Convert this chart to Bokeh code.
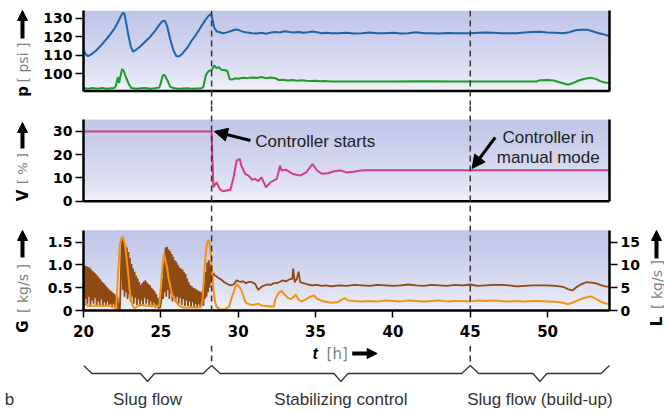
import numpy as np
from bokeh.plotting import figure
from bokeh.layouts import column, row
from bokeh.models import Range1d, LinearAxis, FixedTicker, Span, Label, Arrow, NormalHead
from bokeh.embed import file_html
from bokeh.resources import INLINE

# ---------------- events and phases (time in h) ----------------
t_controller_on = 28.28
t_manual = 45.0
phase_edges = [20.0, 28.28, 45.0, 54.0]
phase_names = ["Slug flow", "Stabilizing control", "Slug flow (build-up)"]
x_ticks = [20, 25, 30, 35, 40, 45, 50]

# ---------------- pressures (psi) ----------------
t_p_top = [20.0, 20.15, 20.3, 20.5, 20.8, 21.1, 21.4, 21.7, 22.0, 22.2, 22.4, 22.55, 22.65, 22.75,
           22.9, 23.05, 23.2, 23.4, 23.7, 24.0, 24.3, 24.6, 24.9, 25.1, 25.25, 25.4, 25.6, 25.8,
           26.0, 26.2, 26.4, 26.7, 27.0, 27.3, 27.6, 27.9, 28.1, 28.25, 28.35, 28.45, 28.6, 28.8,
           29.0, 29.2, 29.5, 29.8, 30.0, 30.3, 30.6, 30.9, 31.2, 31.5, 31.8, 32.1, 32.4, 32.7,
           33.0, 33.3, 33.6, 33.9, 34.2, 34.5, 34.8, 35.1, 35.4, 35.7, 36.0, 36.5, 37.0, 37.5,
           38.0, 38.5, 39.0, 39.5, 40.0, 40.5, 41.0, 41.5, 42.0, 42.5, 43.0, 43.5, 44.0, 44.5,
           45.0, 45.5, 46.0, 46.5, 47.0, 47.5, 48.0, 48.5, 49.0, 49.5, 50.0, 50.5, 51.0, 51.4,
           51.8, 52.2, 52.6, 52.9, 53.2, 53.5, 54.0]
p_top = [113.0, 110.5, 109.5, 110.5, 112.5, 115.0, 118.0, 121.0, 124.5, 127.5, 131.0, 133.0, 132.5, 128.0,
         121.0, 115.0, 112.0, 113.0, 115.0, 117.5, 120.0, 123.0, 126.5, 128.5, 128.8, 126.0, 119.0, 113.0,
         109.5, 109.5, 111.0, 114.0, 118.0, 121.5, 125.5, 129.5, 131.5, 132.5, 129.0, 125.0, 123.0, 122.5,
         122.0, 122.3, 123.0, 124.0, 123.8, 122.8, 122.3, 122.0, 121.8, 122.2, 121.7, 122.3, 122.6, 122.4,
         123.0, 122.6, 122.3, 122.6, 122.2, 122.5, 122.9, 122.5, 122.0, 122.2, 122.0, 122.0, 122.2, 121.8,
         122.0, 122.3, 121.9, 122.0, 122.2, 121.8, 122.0, 122.5, 121.9, 122.0, 121.8, 122.1, 122.0, 121.9,
         122.0, 122.2, 122.4, 122.2, 122.0, 121.9, 122.0, 122.3, 122.6, 122.8, 122.4, 122.2, 122.0, 122.5,
         123.6, 123.9, 123.8, 123.0, 122.2, 121.6, 120.5]

t_p_bot = [20.0, 20.3, 20.6, 20.9, 21.2, 21.5, 21.8, 22.0, 22.1, 22.2, 22.25, 22.3, 22.4, 22.5,
           22.6, 22.7, 22.8, 22.95, 23.1, 23.4, 23.7, 24.0, 24.3, 24.6, 24.9, 25.0, 25.1, 25.2,
           25.3, 25.45, 25.6, 25.8, 26.1, 26.4, 26.7, 27.0, 27.3, 27.6, 27.75, 27.9, 28.0, 28.1,
           28.3, 28.45, 28.6, 28.75, 28.9, 29.1, 29.3, 29.45, 29.6, 29.8, 30.0, 30.3, 30.6, 30.9,
           31.2, 31.5, 31.8, 32.1, 32.4, 32.6, 32.9, 33.2, 33.5, 33.8, 34.1, 34.4, 34.7, 35.0,
           35.3, 35.6, 36.0, 38.0, 40.0, 42.0, 44.0, 46.0, 48.0, 49.3, 49.5, 50.0, 50.4, 50.7,
           51.0, 51.3, 51.6, 52.0, 52.4, 52.8, 53.1, 53.4, 53.7, 54.0]
p_bot = [92.2, 91.8, 92.3, 91.9, 92.2, 91.8, 92.1, 92.3, 93.5, 97.5, 98.0, 95.0, 99.0, 102.5,
         101.5, 99.0, 97.0, 94.0, 92.2, 91.9, 92.1, 92.2, 91.9, 92.1, 92.5, 95.0, 98.5, 99.5,
         98.5, 96.0, 93.0, 92.2, 91.8, 92.0, 92.1, 91.8, 92.0, 92.1, 92.8, 99.0, 100.5, 101.5,
         102.0, 104.5, 103.0, 103.5, 102.2, 102.0, 101.5, 97.0, 96.8, 97.5, 97.3, 97.8, 97.6, 98.0,
         97.7, 98.2, 97.6, 97.9, 97.6, 96.6, 96.7, 96.3, 96.6, 96.2, 96.5, 96.2, 96.1, 96.2,
         95.9, 96.0, 95.8, 95.8, 95.8, 95.9, 95.8, 95.8, 95.8, 95.8, 96.5, 96.6, 96.3, 95.5,
         94.8, 94.0, 94.8, 96.3, 97.3, 97.8, 97.2, 96.0, 95.2, 94.9]

# ---------------- valve opening V (%) ----------------
t_valve = [20.0, 28.28, 28.32, 28.4, 28.6, 28.8, 29.0, 29.5, 29.7, 29.9, 30.1, 30.2, 30.45, 30.67,
           30.9, 31.1, 31.3, 31.5, 31.8, 32.1, 32.3, 32.5, 32.7, 32.8, 33.1, 33.5, 34.0, 34.4,
           34.8, 35.1, 35.4, 35.8, 36.2, 36.6, 37.0, 37.45, 37.9, 38.3, 54.0]
valve = [30.0, 30.0, 20.0, 6.0, 8.2, 5.3, 4.3, 4.9, 10.3, 17.5, 18.2, 15.3, 11.8, 11.0,
         9.2, 9.6, 8.6, 10.3, 6.0, 8.2, 8.9, 9.6, 15.3, 13.2, 13.5, 11.8, 11.0, 12.4,
         16.0, 13.2, 11.8, 12.0, 12.9, 13.2, 12.4, 12.7, 13.2, 13.3, 13.3]

# ---------------- gas flow G (kg/s) ----------------
# slugging period, one sample every 0.05 h starting at 20.0 h (ten samples per row)
gas_slug = [1.00, 0.12, 0.98, 0.25, 0.97, 0.15, 0.95, 0.30, 0.94, 0.10,
            0.90, 0.22, 0.86, 0.15, 0.83, 0.28, 0.80, 0.10, 0.76, 0.20,
            0.72, 0.12, 0.68, 0.25, 0.63, 0.08, 0.60, 0.18, 0.56, 0.10,
            0.52, 0.20, 0.48, 0.08, 0.45, 0.15, 0.42, 0.06, 0.39, 0.15,
            0.36, 0.05, 0.33, 0.10, 0.30, 0.03, 0.15, 0.02, 0.55, 1.20,
            1.62, 0.45, 1.55, 0.30, 1.45, 0.40, 1.38, 0.25, 1.28, 0.35,
            1.15, 0.20, 1.02, 0.30, 0.92, 0.15, 0.85, 0.28, 0.76, 0.12,
            0.70, 0.25, 0.62, 0.10, 0.56, 0.22, 0.60, 0.12, 0.64, 0.28,
            0.66, 0.15, 0.62, 0.25, 0.58, 0.10, 0.55, 0.20, 0.50, 0.08,
            0.46, 0.18, 0.42, 0.06, 0.36, 0.12, 0.28, 0.04, 0.22, 0.05,
            0.15, 0.30, 0.70, 0.25, 1.05, 0.40, 1.38, 0.30, 1.40, 0.45,
            1.34, 0.25, 1.30, 0.38, 1.24, 0.20, 1.18, 0.32, 1.10, 0.18,
            1.07, 0.30, 1.00, 0.15, 0.95, 0.28, 0.92, 0.12, 0.90, 0.25,
            0.84, 0.10, 0.80, 0.22, 0.70, 0.10, 0.62, 0.20, 0.56, 0.08,
            0.53, 0.18, 0.50, 0.06, 0.48, 0.15, 0.46, 0.05, 0.44, 0.14,
            0.42, 0.05, 0.40, 0.15, 0.45, 0.10, 0.60, 0.25, 0.85, 0.30,
            1.05, 0.40, 1.10, 0.50, 1.00, 0.60, 0.90, 0.75, 0.82, 0.78]
t_gas_slug = np.round(20.0 + 0.05 * np.arange(len(gas_slug)), 2).tolist()
t_gas_ctrl = [28.5, 28.7, 28.9, 29.1, 29.3, 29.5, 29.7, 29.9, 30.1, 30.3, 30.5, 30.7, 30.9, 31.1,
              31.3, 31.5, 31.7, 31.9, 32.1, 32.3, 32.5, 32.7, 32.9, 33.1, 33.3, 33.5, 33.55, 33.65,
              33.8, 33.9, 34.0, 34.2, 34.5, 34.8, 35.1, 35.4, 35.7, 36.0, 36.5, 37.0, 37.5, 38.0,
              38.5, 39.0, 39.5, 40.0, 40.5, 41.0, 41.5, 42.0, 42.5, 43.0, 43.5, 44.0, 44.5, 45.0,
              45.5, 46.0, 46.5, 47.0, 47.5, 48.0, 48.5, 49.0, 49.5, 50.0, 50.5, 51.0, 51.3, 51.6,
              51.9, 52.2, 52.5, 52.8, 53.1, 53.4, 53.7, 54.0]
gas_ctrl = [0.77, 0.72, 0.68, 0.62, 0.58, 0.55, 0.57, 0.66, 0.63, 0.64, 0.60, 0.63, 0.62, 0.58,
            0.45, 0.52, 0.55, 0.57, 0.56, 0.60, 0.60, 0.63, 0.66, 0.64, 0.68, 0.70, 0.92, 0.62,
            0.70, 0.85, 0.62, 0.60, 0.57, 0.55, 0.56, 0.54, 0.55, 0.53, 0.55, 0.54, 0.56, 0.55,
            0.54, 0.56, 0.55, 0.54, 0.55, 0.57, 0.55, 0.54, 0.56, 0.55, 0.54, 0.56, 0.55, 0.57,
            0.54, 0.55, 0.56, 0.56, 0.55, 0.53, 0.54, 0.55, 0.55, 0.55, 0.54, 0.52, 0.47, 0.44,
            0.52, 0.58, 0.62, 0.61, 0.60, 0.56, 0.53, 0.52]
t_gas = t_gas_slug + t_gas_ctrl
gas = gas_slug + gas_ctrl

# ---------------- liquid flow L (kg/s) ----------------
t_liq = [20.0, 20.05, 20.15, 20.4, 20.8, 21.2, 21.6, 22.0, 22.1, 22.15, 22.25, 22.35, 22.5, 22.6,
         22.7, 22.8, 22.9, 23.0, 23.1, 23.2, 23.3, 23.5, 23.8, 24.2, 24.6, 24.9, 25.0, 25.1,
         25.2, 25.3, 25.4, 25.5, 25.6, 25.7, 25.8, 25.9, 26.0, 26.2, 26.5, 26.9, 27.3, 27.6,
         27.7, 27.8, 27.9, 28.0, 28.1, 28.2, 28.3, 28.4, 28.5, 28.6, 28.8, 29.1, 29.4, 29.6,
         29.8, 29.9, 30.0, 30.2, 30.4, 30.5, 30.7, 30.9, 31.1, 31.3, 31.5, 31.8, 32.1, 32.3,
         32.4, 32.6, 32.8, 33.0, 33.2, 33.4, 33.6, 33.7, 33.9, 34.1, 34.4, 34.7, 34.9, 35.1,
         35.4, 35.7, 36.0, 36.4, 36.7, 36.9, 37.1, 37.5, 38.0, 38.5, 39.0, 39.5, 40.0, 40.5,
         41.0, 41.5, 42.0, 42.5, 43.0, 43.5, 44.0, 44.5, 45.0, 45.5, 46.0, 46.5, 47.0, 47.5,
         48.0, 48.5, 49.0, 49.5, 50.0, 50.5, 51.0, 51.3, 51.6, 52.0, 52.4, 52.8, 53.1, 53.4,
         53.7, 54.0]
liq = [1.5, 2.3, 1.2, 1.0, 1.1, 1.0, 1.1, 1.0, 0.2, 3.0, 9.0, 14.5, 16.2, 15.5,
       14.0, 11.0, 7.5, 4.0, 2.0, 0.8, 0.5, 1.0, 1.2, 1.0, 1.1, 1.0, 5.0, 9.5,
       12.5, 11.0, 9.5, 7.0, 5.5, 4.0, 3.0, 2.5, 1.8, 1.0, 0.6, 0.7, 0.6, 0.8,
       2.5, 8.0, 12.5, 15.0, 15.5, 13.5, 9.0, 4.5, 2.0, 0.8, 0.3, 0.2, 0.8, 3.0,
       5.0, 5.8, 5.5, 4.5, 2.5, 1.7, 1.4, 1.2, 1.3, 1.5, 1.1, 1.0, 0.9, 0.8,
       2.5, 3.8, 4.3, 3.5, 2.8, 2.5, 3.0, 3.5, 2.4, 2.0, 2.5, 3.1, 3.3, 2.6,
       2.1, 1.9, 1.7, 1.8, 2.4, 2.7, 2.2, 2.1, 2.0, 2.1, 2.0, 2.2, 2.1, 2.0,
       2.2, 2.1, 2.0, 2.1, 2.2, 2.0, 2.1, 2.1, 2.0, 2.2, 2.1, 2.2, 2.1, 2.0,
       2.1, 2.0, 2.1, 2.1, 2.0, 1.9, 1.7, 1.4, 1.7, 2.3, 2.8, 3.1, 2.6, 2.0,
       1.6, 1.4]

# ---------------- styling ----------------
BLUE, GREEN, PINK = "#1f64a6", "#1f9a2b", "#d63d82"
BROWN, ORANGE = "#8f4a12", "#f29312"
DASH_COLOR = "#333333"
X0, X1 = 20.0, 54.0
FRAME_W = 526
BORDER_L, BORDER_R = 49, 35
SIDE_L, SIDE_R = 34, 20
PX_PER_H = FRAME_W / (X1 - X0)
TICK_FONT = "DejaVu Sans"
TEXT_FONT = "Liberation Sans"
TOTAL_H = 413


def make_fig(frame_h, y0, y1, top=0, bottom=0, frame_w=FRAME_W, x_hi=X1, right=BORDER_R):
    p = figure(frame_width=frame_w, frame_height=frame_h,
               x_range=Range1d(X0, x_hi), y_range=Range1d(y0, y1),
               x_axis_location=None, y_axis_location=None,
               toolbar_location=None, output_backend="svg",
               min_border_left=BORDER_L, min_border_right=right,
               min_border_top=top, min_border_bottom=bottom)
    p.outline_line_color = None
    p.grid.visible = False
    p.background_fill_color = "white"
    p.border_fill_color = "white"
    return p


def bare_fig(frame_w, frame_h, xr, yr):
    p = figure(frame_width=frame_w, frame_height=frame_h, x_range=xr, y_range=yr,
               x_axis_location=None, y_axis_location=None,
               toolbar_location=None, output_backend="svg",
               min_border=0)
    p.outline_line_color = None
    p.grid.visible = False
    p.background_fill_color = "white"
    p.border_fill_color = "white"
    return p


def panel_background(p, y_lo, y_hi):
    # lavender wash that fades towards the bottom of each panel
    n = 160
    f = (np.linspace(0.0, 1.0, n) ** 0.65)[:, None]
    lo = np.array([244, 245, 251], dtype=float)
    hi = np.array([192, 197, 233], dtype=float)
    rgb = lo + (hi - lo) * f
    img = np.empty((n, 1), dtype=np.uint32)
    view = img.view(dtype=np.uint8).reshape((n, 1, 4))
    view[:, :, 0] = rgb[:, 0:1]
    view[:, :, 1] = rgb[:, 1:2]
    view[:, :, 2] = rgb[:, 2:3]
    view[:, :, 3] = 255
    p.image_rgba(image=[img], x=X0, y=y_lo, dw=X1 - X0, dh=y_hi - y_lo, level="image")


def style_axis(ax, size=14):
    ax.axis_line_width = 2.5
    ax.axis_line_color = "black"
    ax.major_tick_line_width = 1.5
    ax.major_tick_line_color = "black"
    ax.major_tick_out = 8
    ax.major_tick_in = 0
    ax.minor_tick_line_color = None
    ax.major_label_text_font = TICK_FONT
    ax.major_label_text_font_style = "bold"
    ax.major_label_text_font_size = f"{size}px"
    ax.major_label_text_color = "black"
    ax.major_label_standoff = 3


def border_axis(p, lo, hi, side):
    ax = LinearAxis(ticker=FixedTicker(ticks=[]), bounds=(lo, hi))
    ax.axis_line_width = 2.5
    ax.major_label_text_font_size = "0px"
    ax.major_tick_line_color = None
    ax.minor_tick_line_color = None
    p.add_layout(ax, side)


def dashed_marker(p, x, y_top, y_bottom):
    p.add_layout(Arrow(end=None, x_start=x, y_start=y_top, x_end=x, y_end=y_bottom,
                       line_color=DASH_COLOR, line_width=1.5, line_dash="6 4"))


def label(p, x, y, text, size, color="black", bold=False, italic=False, angle=0.0,
          align="center", font=TEXT_FONT):
    style = "normal"
    if bold and italic:
        style = "bold italic"
    elif bold:
        style = "bold"
    elif italic:
        style = "italic"
    p.add_layout(Label(x=x, y=y, text=text, text_font=font, text_font_size=f"{size}px",
                       text_font_style=style, text_color=color, angle=angle,
                       text_align=align, text_baseline="middle"))


def solid_arrow(p, x0, y0, x1, y1, width=4, head=10):
    p.add_layout(Arrow(end=NormalHead(size=head, fill_color="black", line_color="black"),
                       x_start=x0, y_start=y0, x_end=x1, y_end=y1,
                       line_color="black", line_width=width))


def axis_title(p, x, y_sym, y_unit, y_tail, y_tip, sym, unit, unit_size=14):
    label(p, x, y_sym, sym, 15, bold=True, angle=np.pi / 2, font=TICK_FONT)
    label(p, x, y_unit, unit, unit_size, color="#808080", angle=np.pi / 2, font="DejaVu Sans")
    solid_arrow(p, x, y_tail, x, y_tip)


# ---------------- pressure panel ----------------
f1 = make_fig(95, 82.75, 134.3, top=10)
P_LO, P_HI = 90.6, 134.3
panel_background(f1, P_LO, P_HI)
f1.line(t_p_top, p_top, line_color=BLUE, line_width=2)
f1.line(t_p_bot, p_bot, line_color=GREEN, line_width=2)
ax = LinearAxis(ticker=FixedTicker(ticks=[100, 110, 120, 130]), bounds=(P_LO, P_HI))
style_axis(ax)
f1.add_layout(ax, "left")
border_axis(f1, P_LO, P_HI, "right")
f1.add_layout(Span(location=P_LO, dimension="width", line_color="black", line_width=2.5))
for t in (t_controller_on, t_manual):
    dashed_marker(f1, t, 134.3, 82.75)

# ---------------- valve panel ----------------
f2 = make_fig(110, -6.14, 41.16)
V_HI = 35.1
panel_background(f2, 0, V_HI)
f2.line(t_valve, valve, line_color=PINK, line_width=2)
ax = LinearAxis(ticker=FixedTicker(ticks=[0, 10, 20, 30]), bounds=(0, V_HI))
style_axis(ax)
f2.add_layout(ax, "left")
border_axis(f2, 0, V_HI, "right")
f2.add_layout(Span(location=0, dimension="width", line_color="black", line_width=2.5))
for t in (t_controller_on, t_manual):
    dashed_marker(f2, t, 41.16, -6.14)
solid_arrow(f2, 30.79, 26.1, 28.46, 30.0, width=3, head=13)
label(f2, 31.1, 25.7, "Controller starts", 17, color="#222222", align="left")
solid_arrow(f2, 46.61, 27.4, 45.12, 14.1, width=3, head=13)
label(f2, 50.04, 27.4, "Controller in", 17, color="#222222")
label(f2, 50.04, 18.8, "manual mode", 17, color="#222222")

# ---------------- flow panel ----------------
f3 = make_fig(95, 0, 2.083, bottom=35)
f3.extra_y_ranges = {"liq": Range1d(0, 20.83)}
G_HI, L_HI = 1.76, 17.6
panel_background(f3, 0, G_HI)
f3.line(t_gas, gas, line_color=BROWN, line_width=1.8)
f3.line(t_liq, liq, line_color=ORANGE, line_width=2, y_range_name="liq")
ax = LinearAxis(ticker=FixedTicker(ticks=[0, 0.5, 1.0, 1.5]), bounds=(0, G_HI),
                major_label_overrides={0: "0", 0.5: "0.5", 1: "1.0", 1.5: "1.5"})
style_axis(ax)
f3.add_layout(ax, "left")
ax = LinearAxis(ticker=FixedTicker(ticks=[0, 5, 10, 15]), bounds=(0, L_HI), y_range_name="liq")
style_axis(ax)
f3.add_layout(ax, "right")
ax = LinearAxis(ticker=FixedTicker(ticks=x_ticks))
style_axis(ax, 15)
ax.major_tick_out = 7
ax.major_label_standoff = 7
f3.add_layout(ax, "below")
for t in (t_controller_on, t_manual):
    dashed_marker(f3, t, 2.083, -0.77)

# ---------------- phase braces (same time scale, frame runs on into the right margin) ----------------
f4 = make_fig(68, 0, 68, frame_w=FRAME_W + BORDER_R, x_hi=X1 + BORDER_R / PX_PER_H, right=0)
for a, b in zip(phase_edges[:-1], phase_edges[1:]):
    m = 0.5 * (a + b)
    f4.line([a, a + 0.55, m - 0.45, m, m + 0.45, b - 0.55, b],
            [48, 40, 40, 32, 40, 40, 48], line_color="#333333", line_width=1.3)
for (a, b), name in zip(zip(phase_edges[:-1], phase_edges[1:]), phase_names):
    label(f4, 0.5 * (a + b), 14, name, 17, color="#333333")
for t in (t_controller_on, t_manual):
    dashed_marker(f4, t, 68, 48)
label(f4, 34.97, 60, "t", 16, bold=True, italic=True)
label(f4, 36.4, 60, "[h]", 15, color="#808080", font="DejaVu Sans")
solid_arrow(f4, 37.37, 60, 38.98, 60)

# ---------------- axis titles in the side strips (y measured from the top) ----------------
left = bare_fig(SIDE_L, TOTAL_H, Range1d(0, SIDE_L), Range1d(TOTAL_H, 0))
axis_title(left, 22, 91, 62, 38, 10, "p", "[ psi ]")
axis_title(left, 22, 195, 168, 148, 122, "V", "[ % ]", unit_size=13)
axis_title(left, 22, 326, 288, 257, 230, "G", "[ kg/s ]")
label(left, 9, 399, "b", 17, color="#333333")

right = bare_fig(SIDE_R, TOTAL_H, Range1d(0, SIDE_R), Range1d(TOTAL_H, 0))
axis_title(right, 12, 321, 284, 258, 230, "L", "[ kg/s ]")

layout = row(left, column(f1, f2, f3, f4, spacing=0), right, spacing=0)
open("out.html", "w").write(file_html(layout, INLINE))
